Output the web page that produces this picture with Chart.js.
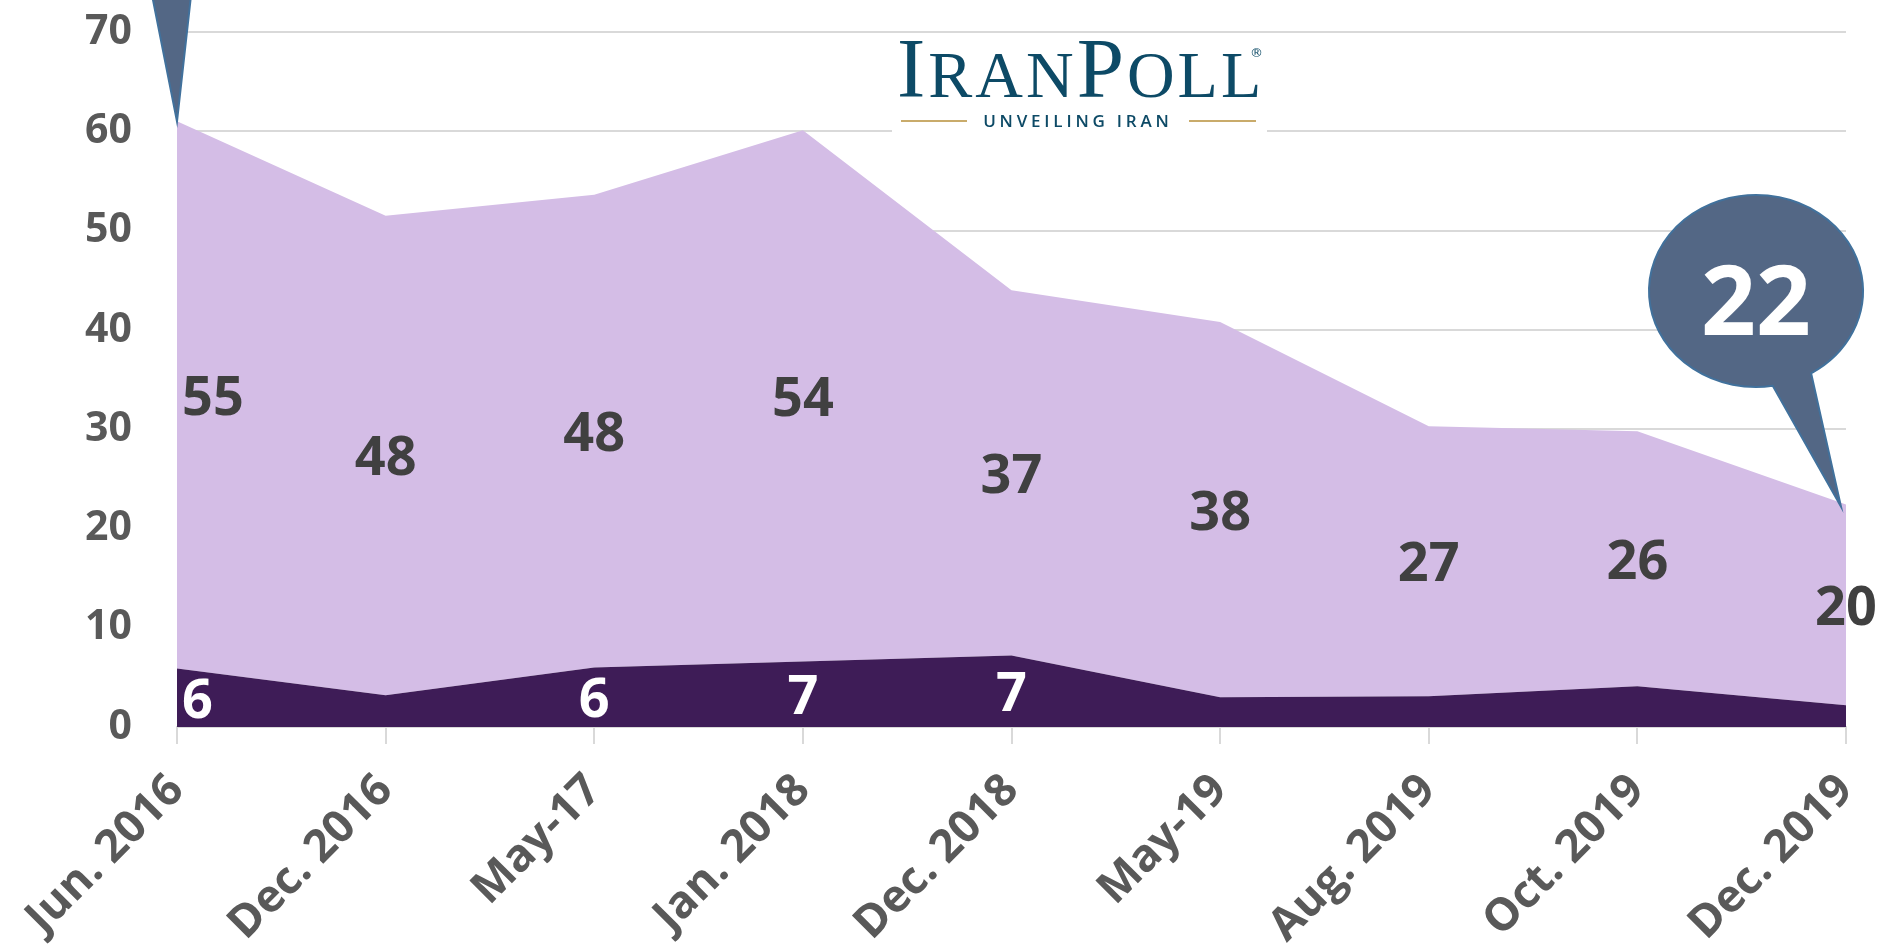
<!DOCTYPE html>
<html><head><meta charset="utf-8">
<script src="https://cdn.jsdelivr.net/npm/chart.js@4.4.1/dist/chart.umd.min.js"></script>
<style>html,body{margin:0;padding:0;background:#fff;} #wrap{width:1880px;height:952px;position:relative;}</style>
</head><body><div id="wrap"><canvas id="c"></canvas></div>
<script>
const categories = ['Jun. 2016','Dec. 2016','May-17','Jan. 2018','Dec. 2018','May-19','Aug. 2019','Oct. 2019','Dec. 2019'];
const lowerValues = [5.9, 3.2, 6.0, 6.6, 7.2, 3.0, 3.1, 4.1, 2.2];
const upperValues = [55.1, 48.3, 47.6, 53.5, 36.8, 37.8, 27.2, 25.7, 20.2];
const lowerLabels = ['6', null, '6', '7', '7', null, null, null, null];
const upperLabels = ['55', '48', '48', '54', '37', '38', '27', '26', '20'];
const yTicks = [0, 10, 20, 30, 40, 50, 60, 70];
const calloutText = '22';

const FONT = '"Open Sans"';
Chart.defaults.font.family = FONT;

const labelPlugin = {
  id: 'areaLabels',
  afterDatasetsDraw(chart) {
    const ctx = chart.ctx, xs = chart.scales.x, ys = chart.scales.y;
    ctx.save();
    ctx.font = 'bold 54px ' + FONT;
    ctx.textBaseline = 'alphabetic';
    categories.forEach((c, i) => {
      const px = xs.getPixelForValue(i);
      const first = i === 0;
      ctx.textAlign = first ? 'left' : 'center';
      const lx = first ? px + 5 : px;
      if (upperLabels[i]) {
        const mid = lowerValues[i] + upperValues[i] / 2;
        ctx.fillStyle = '#404040';
        ctx.fillText(upperLabels[i], lx, ys.getPixelForValue(mid) + 20);
      }
      if (lowerLabels[i]) {
        const mid = lowerValues[i] / 2;
        ctx.fillStyle = '#ffffff';
        ctx.fillText(lowerLabels[i], lx, ys.getPixelForValue(mid) + 20);
      }
    });
    ctx.restore();
  }
};

const logoPlugin = {
  id: 'logo',
  beforeDatasetsDraw(chart) {
    const ctx = chart.ctx;
    ctx.save();
    ctx.fillStyle = '#ffffff';
    ctx.fillRect(892, 34, 375, 106);
    ctx.fillStyle = '#0d4a66';
    ctx.textBaseline = 'alphabetic';
    ctx.textAlign = 'left';
    const parts = [['I', 85], ['RAN', 66], ['P', 85], ['OLL', 66]];
    let x = 897;
    const base = 97;
    parts.forEach(([s, size]) => {
      ctx.font = size + 'px "Liberation Serif"';
      for (const ch of s) {
        ctx.fillText(ch, x, base);
        x += ctx.measureText(ch).width + 3;
      }
    });
    ctx.font = '13px "DejaVu Sans"';
    ctx.fillText('\u00AE', 1250, 57);
    ctx.font = '600 17px "Open Sans"';
    const tag = 'UNVEILING IRAN';
    let w = 0;
    const sp = 3.8;
    for (const ch of tag) w += ctx.measureText(ch).width + sp;
    w -= sp;
    let tx = 1076 - w / 2;
    for (const ch of tag) {
      ctx.fillText(ch, tx, 127);
      tx += ctx.measureText(ch).width + sp;
    }
    ctx.strokeStyle = '#c9ab6b';
    ctx.lineWidth = 2;
    ctx.beginPath();
    ctx.moveTo(901, 121); ctx.lineTo(967, 121);
    ctx.moveTo(1189, 121); ctx.lineTo(1256, 121);
    ctx.stroke();
    ctx.restore();
  }
};

const calloutPlugin = {
  id: 'callouts',
  afterDraw(chart) {
    const ctx = chart.ctx, xs = chart.scales.x, ys = chart.scales.y;
    const fill = '#536785', stroke = '#41719c';
    ctx.save();
    const t0 = { x: xs.getPixelForValue(0), y: ys.getPixelForValue(lowerValues[0] + upperValues[0]) };
    ctx.beginPath();
    ctx.moveTo(t0.x - 26.3, t0.y - 133);
    ctx.lineTo(t0.x, t0.y);
    ctx.lineTo(t0.x + 14.8, t0.y - 133);
    ctx.closePath();
    ctx.fillStyle = fill; ctx.fill();
    ctx.strokeStyle = stroke; ctx.lineWidth = 2; ctx.stroke();
    const n = categories.length - 1;
    const tip = { x: xs.getPixelForValue(n) - 5, y: ys.getPixelForValue(lowerValues[n] + upperValues[n]) + 2 };
    const cx = 1756, cy = 291, rx = 107, ry = 96;
    const d = Math.PI / 180;
    ctx.beginPath();
    ctx.ellipse(cx, cy, rx, ry, 0, 81 * d, (59 + 360) * d, false);
    ctx.lineTo(tip.x, tip.y);
    ctx.closePath();
    ctx.fillStyle = fill; ctx.fill();
    ctx.strokeStyle = stroke; ctx.lineWidth = 2; ctx.stroke();
    ctx.fillStyle = '#ffffff';
    ctx.font = 'bold 96px ' + FONT;
    ctx.textAlign = 'center';
    ctx.textBaseline = 'alphabetic';
    ctx.fillText(calloutText, cx, 335);
    ctx.restore();
  }
};

new Chart(document.getElementById('c'), {
  type: 'line',
  data: {
    labels: categories,
    datasets: [
      { data: lowerValues, backgroundColor: '#3e1c57', borderWidth: 0, pointRadius: 0, fill: 'origin', tension: 0 },
      { data: upperValues, backgroundColor: '#d4bde6', borderWidth: 0, pointRadius: 0, fill: '-1', tension: 0 }
    ]
  },
  options: {
    responsive: true,
    maintainAspectRatio: false,
    animation: false,
    events: [],
    layout: { padding: { top: 32, right: 34, left: 0, bottom: 0 } },
    plugins: { legend: { display: false }, tooltip: { enabled: false } },
    scales: {
      x: {
        grid: { display: true, drawOnChartArea: false, drawTicks: true, tickLength: 17, color: '#d9d9d9', lineWidth: 2 },
        border: { display: true, color: '#d9d9d9', width: 2 },
        ticks: { color: '#595959', font: { size: 45, weight: 'bold' }, maxRotation: 45, minRotation: 45, autoSkip: false, padding: 20 },
        afterFit(s) { s.height = 225; s.paddingLeft = 0; s.paddingRight = 0; s.paddingTop = 0; s.paddingBottom = 0; }
      },
      y: {
        stacked: true,
        min: 0, max: 70,
        afterBuildTicks(s) { s.ticks = yTicks.map(v => ({ value: v })); },
        grid: { color: '#d9d9d9', lineWidth: 2, drawTicks: false },
        border: { display: false },
        ticks: { color: '#595959', font: { size: 41, weight: 'bold' }, padding: 45 },
        afterFit(s) { s.width = 177; s.paddingTop = 0; s.paddingBottom = 0; s.paddingLeft = 0; s.paddingRight = 0; }
      }
    }
  },
  plugins: [labelPlugin, logoPlugin, calloutPlugin]
});
</script>
</body></html>
